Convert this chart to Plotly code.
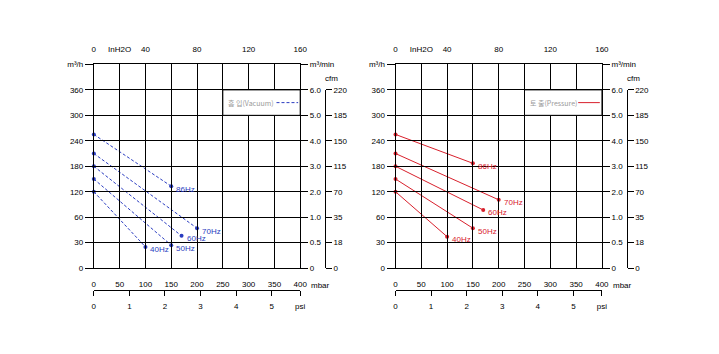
import numpy as np
import plotly.graph_objects as go

W, H = 719, 354

# ---------------- data ----------------
flow_m3h = [0, 30, 60, 120, 180, 240, 300, 360]          # left axis rows
flow_m3min = ["0", "0.5", "1.0", "2.0", "3.0", "4.0", "5.0", "6.0"]
flow_cfm = ["0", "18", "35", "70", "115", "150", "185", "220"]
mbar_ticks = [0, 50, 100, 150, 200, 250, 300, 350, 400]
inh2o_ticks = [0, 20, 40, 80, 120, 160]
inh2o_text = ["0", "InH2O", "40", "80", "120", "160"]
psi_ticks = [0, 1, 2, 3, 4, 5]

freqs = ["86Hz", "70Hz", "60Hz", "50Hz", "40Hz"]
vac_start_flow = [255, 210, 180, 150, 120]
vac_end_mbar = [150, 200, 170, 150, 100]
vac_end_flow = [133, 47, 38, 27, 25]
pres_start_flow = [255, 210, 180, 150, 120]
pres_end_mbar = [150, 200, 170, 150, 100]
pres_end_flow = [187, 101, 77, 47, 37]

# ---------------- style ----------------
FONT = "Liberation Sans"
FS = 8
BLUE = "#2a3cc0"
RED = "#d8202c"
rows = list(range(len(flow_m3h) + 1))          # 0..8 (top row = unit label)
row_vals = flow_m3h + [420]


def to_row(v):
    return float(np.interp(v, row_vals, rows))


def px(x):
    return x / W


def py(y):
    return 1 - y / H


Y0, Y1 = 271, 62          # plot area bottom/top (pixels)
panels = [
    dict(x0=93, x1=302, ax=["", "2", "3"], ay=["", "2", "3"],
         start=vac_start_flow, endx=vac_end_mbar, endy=vac_end_flow,
         color=BLUE, dash="3px,2px", legend="흡 입(Vacuum)"),
    dict(x0=398.5, x1=607.5, ax=["4", "5", "6"], ay=["4", "5", "6"],
         start=pres_start_flow, endx=pres_end_mbar, endy=pres_end_flow,
         color=RED, dash="solid", legend="토 출(Pressure)"),
]

fig = go.Figure()
layout = {}
annotations = []
shapes = []
tickfont = dict(family=FONT, size=FS, color="black")

for p in panels:
    xm, xt, xp = p["ax"]
    ym, yr, yc = p["ay"]
    xdom = [px(p["x0"]), px(p["x1"])]
    ydom = [py(Y0), py(Y1)]
    xm_ref, xt_ref, xp_ref = "x" + xm, "x" + xt, "x" + xp
    ym_ref, yr_ref, yc_ref = "y" + ym, "y" + yr, "y" + yc

    # main mbar axis
    layout["xaxis" + xm] = dict(
        domain=xdom, range=[0, 400], anchor=ym_ref, side="bottom",
        tickvals=mbar_ticks, ticktext=[str(v) for v in mbar_ticks],
        showgrid=True, gridcolor="black", gridwidth=1,
        showline=True, linecolor="black", linewidth=1, mirror=True,
        ticks="", ticklabelstandoff=8, tickfont=tickfont, zeroline=False,
        fixedrange=True)
    # main m3/h axis
    layout["yaxis" + ym] = dict(
        domain=ydom, range=[0, 8], anchor=xm_ref, side="left",
        tickvals=rows, ticktext=[str(v) for v in flow_m3h] + ["m³/h"],
        showgrid=True, gridcolor="black", gridwidth=1,
        showline=True, linecolor="black", linewidth=1, mirror=True,
        ticks="outside", ticklen=8, tickcolor="black", tickwidth=1,
        tickfont=tickfont, zeroline=False, fixedrange=True)
    # top InH2O axis
    layout["xaxis" + xt] = dict(
        overlaying=xm_ref, anchor=ym_ref, side="top", range=[0, 160],
        tickvals=inh2o_ticks, ticktext=inh2o_text, showgrid=False,
        showline=False, ticks="", ticklabelstandoff=10, tickfont=tickfont,
        zeroline=False, fixedrange=True)
    # right m3/min axis
    layout["yaxis" + yr] = dict(
        overlaying=ym_ref, anchor=xm_ref, side="right", range=[0, 8],
        tickvals=rows, ticktext=flow_m3min + ["m³/min"], showgrid=False,
        showline=False, ticks="outside", ticklen=7, tickcolor="black",
        tickfont=tickfont, zeroline=False, fixedrange=True)
    # cfm axis
    layout["yaxis" + yc] = dict(
        domain=[py(Y0), py(Y0 - 7 * (Y0 - Y1) / 8)], range=[0, 7],
        anchor="free", position=px(p["x1"] + 25), side="right",
        tickvals=rows[:8], ticktext=flow_cfm, showgrid=False,
        showline=True, linecolor="black", linewidth=1,
        ticks="outside", ticklen=6, tickcolor="black",
        tickfont=tickfont, zeroline=False, fixedrange=True)
    # psi axis
    layout["xaxis" + xp] = dict(
        domain=xdom, range=[0, 400 / 68.95], anchor="free",
        position=py(293), side="bottom",
        tickvals=psi_ticks + [400 / 68.95],
        ticktext=[str(v) for v in psi_ticks] + ["psi"],
        showgrid=False, showline=True, linecolor="black", linewidth=1,
        ticks="outside", ticklen=5, tickcolor="black", ticklabelstandoff=4,
        tickfont=tickfont, zeroline=False, fixedrange=True)

    # helper invisible traces so every axis gets drawn
    for xa, ya in [(xt_ref, ym_ref), (xm_ref, yr_ref), (xm_ref, yc_ref), (xp_ref, ym_ref)]:
        fig.add_trace(go.Scatter(x=[], y=[], xaxis=xa, yaxis=ya,
                                 showlegend=False, hoverinfo="skip"))

    # legend box
    shapes.append(dict(type="rect", xref=xm_ref, yref=ym_ref, x0=250, x1=400,
                       y0=6, y1=7, fillcolor="white",
                       line=dict(color="black", width=1), layer="above"))
    shapes.append(dict(type="line", xref=xm_ref, yref=ym_ref, x0=354, x1=396,
                       y0=6.5, y1=6.5, layer="above",
                       line=dict(color=p["color"], width=1, dash=p["dash"])))
    annotations.append(dict(xref=xm_ref, yref=ym_ref, x=257, y=6.5,
                            text=p["legend"], showarrow=False,
                            xanchor="left", yanchor="middle",
                            font=dict(family="Noto Sans CJK KR", size=7, color="#999999")))

    # data lines
    for f, s, ex, ey in zip(freqs, p["start"], p["endx"], p["endy"]):
        fig.add_trace(go.Scatter(
            x=[0, ex], y=[to_row(s), to_row(ey)], xaxis=xm_ref, yaxis=ym_ref,
            mode="lines+markers", showlegend=False, cliponaxis=False,
            line=dict(color=p["color"], width=1, dash=p["dash"]),
            marker=dict(color=p["color"], size=4)))
        annotations.append(dict(xref=xm_ref, yref=ym_ref, x=ex, y=to_row(ey),
                                text=f, showarrow=False, xanchor="left",
                                yanchor="middle", xshift=3, yshift=-3,
                                font=dict(family=FONT, size=FS, color=p["color"])))

    # unit labels
    annotations.append(dict(xref="paper", yref="paper", x=px(p["x1"] + 9), y=py(289),
                            text="mbar", showarrow=False, xanchor="left",
                            yanchor="middle", font=tickfont))
    annotations.append(dict(xref="paper", yref="paper", x=px(p["x1"] + 32), y=py(76),
                            text="cfm", showarrow=False, xanchor="center",
                            yanchor="middle", font=tickfont))

fig.update_layout(
    width=W, height=H, margin=dict(l=0, r=0, t=0, b=0, pad=0),
    paper_bgcolor="white", plot_bgcolor="rgba(0,0,0,0)", showlegend=False,
    annotations=annotations, shapes=shapes, **layout)

fig.write_html("out.html")
